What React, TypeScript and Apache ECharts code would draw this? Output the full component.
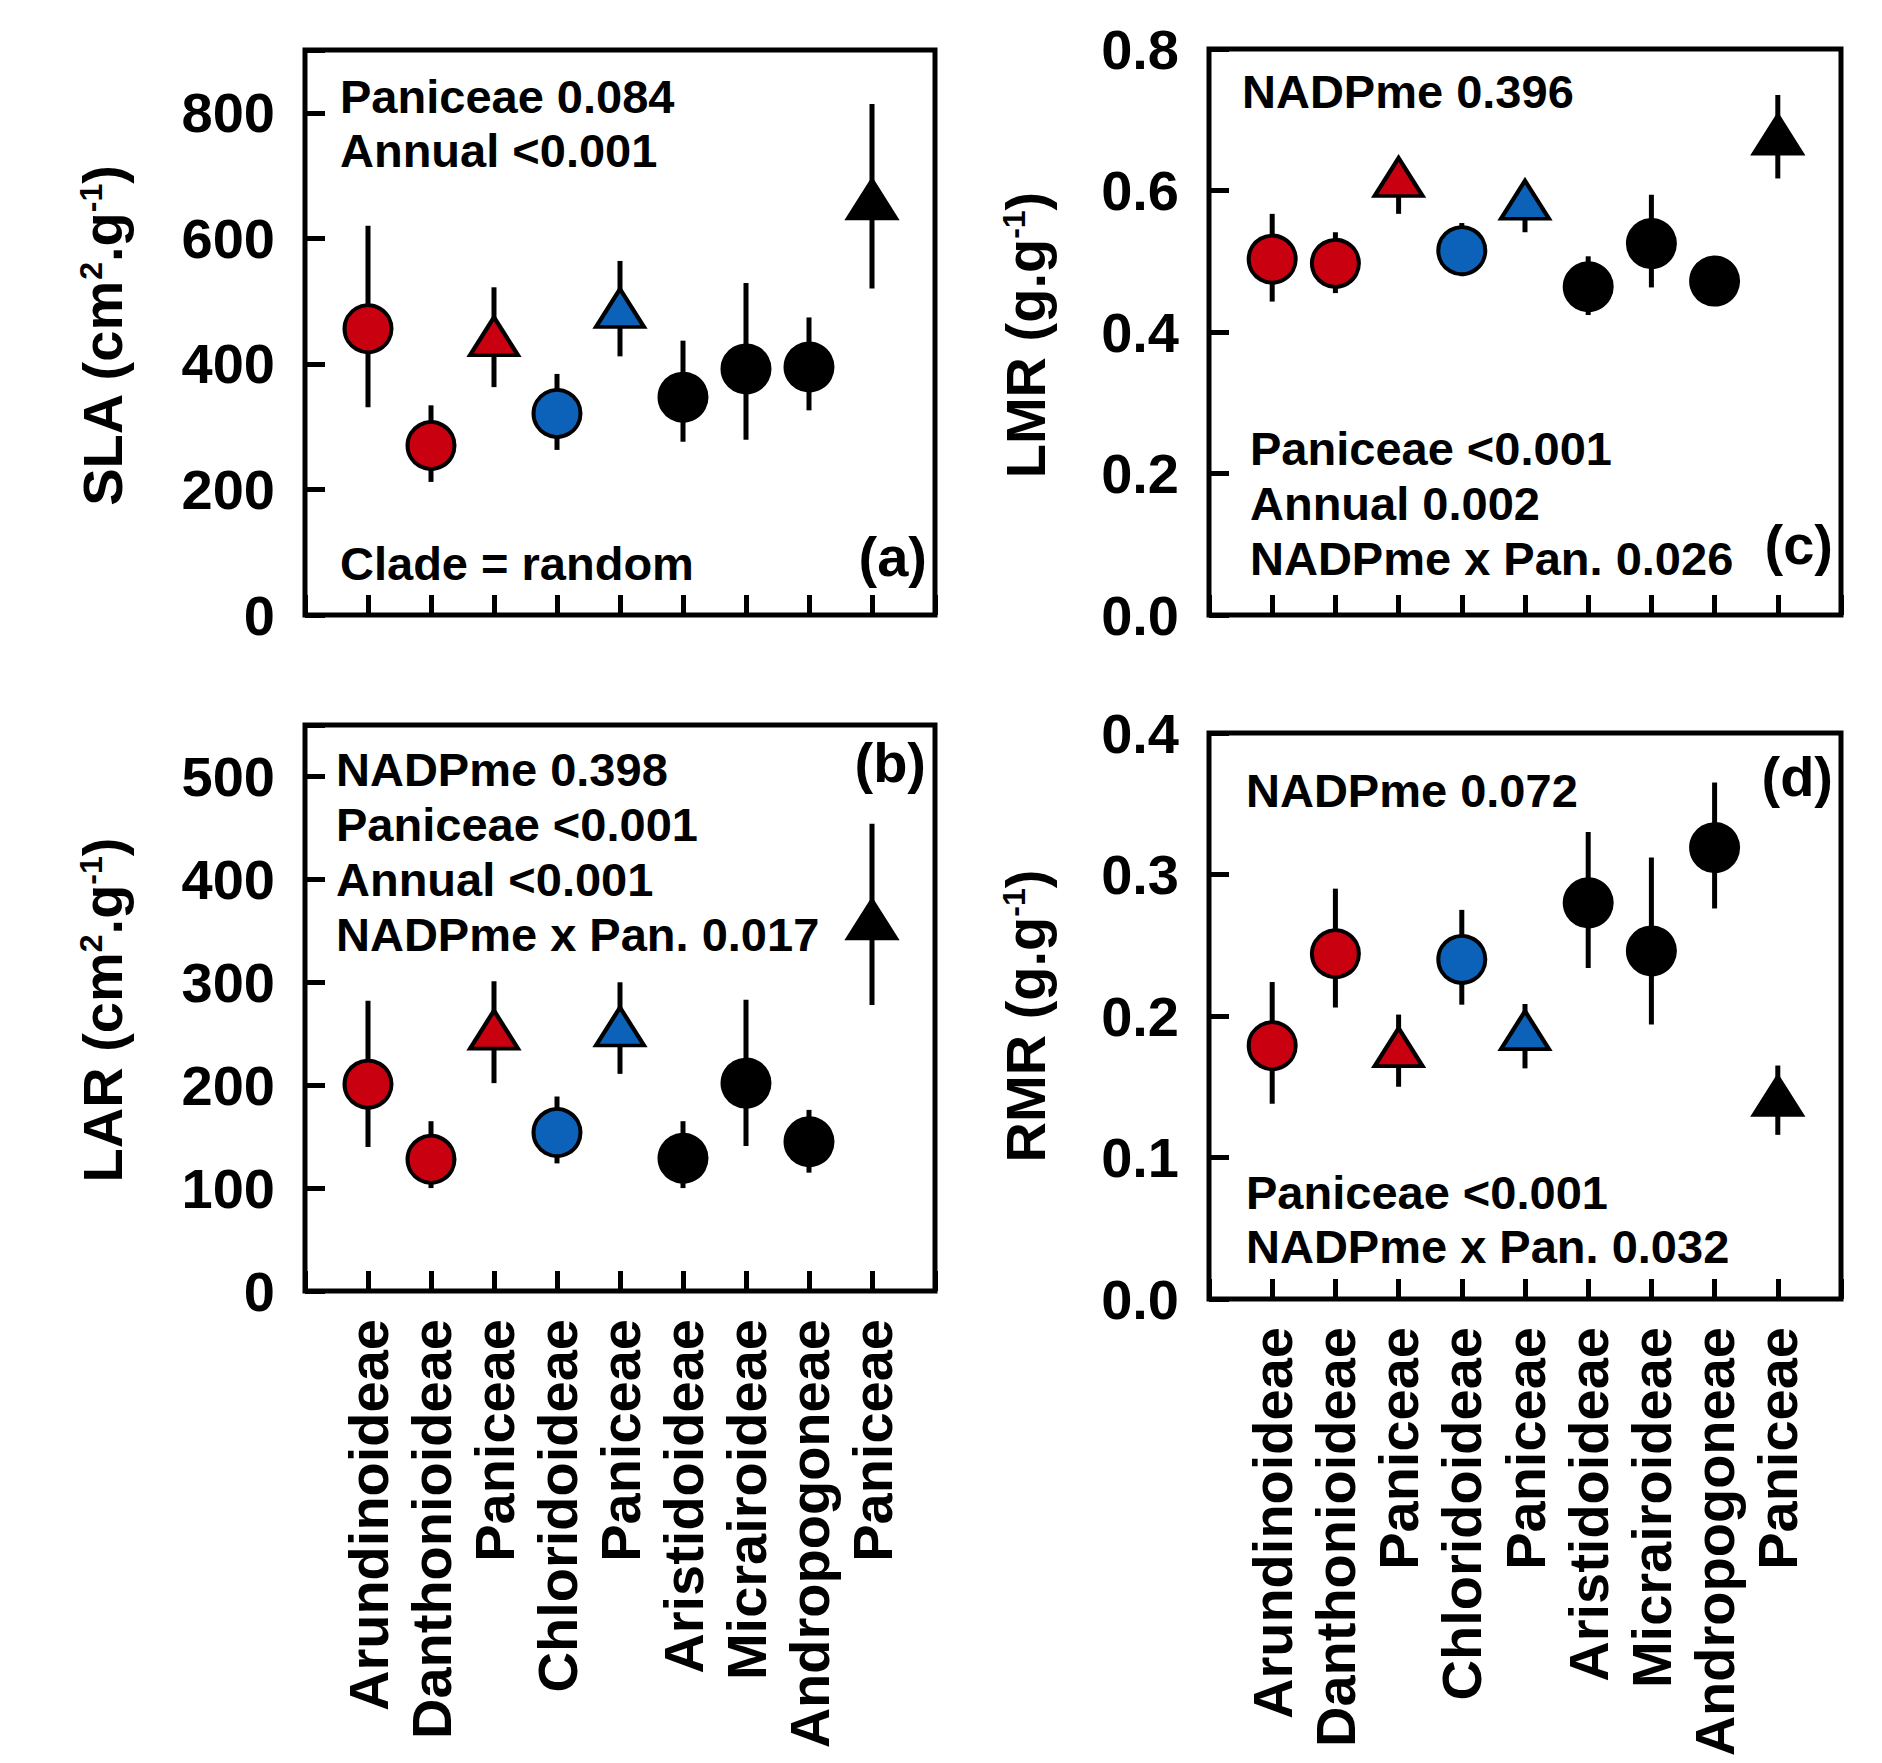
import React, { useEffect, useRef } from 'react';
import * as echarts from 'echarts';

// ---------- data ----------
const categories = ['Arundinoideae', 'Danthonioideae', 'Paniceae', 'Chloridoideae', 'Paniceae', 'Aristidoideae', 'Micrairoideae', 'Andropogoneae', 'Paniceae'];
const groupColors = ['red', 'red', 'red', 'blue', 'blue', 'black', 'black', 'black', 'black'];
const markerShapes = ['circle', 'circle', 'triangle', 'circle', 'triangle', 'circle', 'circle', 'circle', 'triangle'];

// (a) SLA
const slaMean = [456, 270, 444, 321, 489, 347, 392, 395, 662];
const slaLow = [331, 212, 363, 263, 412, 276, 279, 326, 520];
const slaHigh = [620, 334, 522, 384, 564, 437, 529, 474, 814];
const slaTicks = [0, 200, 400, 600, 800];

// (b) LAR
const larMean = [201, 128, 254, 154, 257, 129, 202, 145, 361];
const larLow = [140, 100, 202, 124, 211, 100, 141, 115, 278];
const larHigh = [282, 165, 301, 189, 300, 165, 283, 176, 454];
const larTicks = [0, 100, 200, 300, 400, 500];

// (c) LMR
const lmrMean = [0.503, 0.497, 0.619, 0.515, 0.587, 0.464, 0.525, 0.472, 0.679];
const lmrLow = [0.443, 0.455, 0.567, 0.479, 0.541, 0.424, 0.463, 0.452, 0.617];
const lmrHigh = [0.567, 0.541, 0.645, 0.554, 0.61, 0.507, 0.594, 0.492, 0.735];
const lmrTicks = [0, 0.2, 0.4, 0.6, 0.8];

// (d) RMR
const rmrMean = [0.179, 0.244, 0.178, 0.24, 0.19, 0.28, 0.246, 0.319, 0.1435];
const rmrLow = [0.138, 0.206, 0.15, 0.208, 0.163, 0.234, 0.194, 0.276, 0.116];
const rmrHigh = [0.224, 0.29, 0.201, 0.275, 0.2085, 0.33, 0.312, 0.365, 0.165];
const rmrTicks = [0, 0.1, 0.2, 0.3, 0.4];

// annotation texts
const textsA = ['Paniceae 0.084', 'Annual <0.001', 'Clade = random', '(a)'];
const textsB = ['NADPme 0.398', 'Paniceae <0.001', 'Annual <0.001', 'NADPme x Pan. 0.017', '(b)'];
const textsC = ['NADPme 0.396', 'Paniceae <0.001', 'Annual 0.002', 'NADPme x Pan. 0.026', '(c)'];
const textsD = ['NADPme 0.072', 'Paniceae <0.001', 'NADPme x Pan. 0.032', '(d)'];

// ---------- styling ----------
const FONT = "'Liberation Sans', Arial, Helvetica, sans-serif";
const COLORS: Record<string, string> = { red: '#C9000F', blue: '#0B62B8', black: '#000000' };
const TICK_FS = 56;
const ANN_FS = 47;
const LABEL_FS = 56;

const xCats = ['', ...categories, ''];

type Panel = {
  grid: { left: number; top: number; width: number; height: number };
  max: number; interval: number; ticks: number[]; decimals: number;
  mean: number[]; low: number[]; high: number[];
  showCats: boolean;
};

const panels: Panel[] = [
  { grid: { left: 305, top: 50, width: 630, height: 565 }, max: 900, interval: 200, ticks: slaTicks, decimals: 0, mean: slaMean, low: slaLow, high: slaHigh, showCats: false },
  { grid: { left: 305, top: 725, width: 630, height: 566 }, max: 550, interval: 100, ticks: larTicks, decimals: 0, mean: larMean, low: larLow, high: larHigh, showCats: true },
  { grid: { left: 1209, top: 49, width: 632, height: 566 }, max: 0.8, interval: 0.2, ticks: lmrTicks, decimals: 1, mean: lmrMean, low: lmrLow, high: lmrHigh, showCats: false },
  { grid: { left: 1209, top: 733, width: 632, height: 566 }, max: 0.4, interval: 0.1, ticks: rmrTicks, decimals: 1, mean: rmrMean, low: rmrLow, high: rmrHigh, showCats: true },
];

function annText(text: string, x: number, baseline: number, align: 'left' | 'right', fs: number = ANN_FS) {
  return {
    type: 'text',
    x,
    y: baseline - 0.3465 * fs,
    z: 10,
    style: {
      text,
      fontFamily: FONT,
      fontWeight: 'bold',
      fontSize: fs,
      fill: '#000',
      align,
      verticalAlign: 'middle',
    },
  };
}

const MAIN_FS = 56;
const SUP_FS = 32;
const richTitle = {
  m: { fontFamily: FONT, fontWeight: 'bold', fontSize: MAIN_FS, lineHeight: MAIN_FS, verticalAlign: 'middle', fill: '#000' },
  s: { fontFamily: FONT, fontWeight: 'bold', fontSize: SUP_FS, lineHeight: SUP_FS, verticalAlign: 'top', padding: [0, 0, 41, 0], fill: '#000' },
};

function yTitle(parts: string[], baselineX: number, centerY: number) {
  const text = parts.map((p, i) => (i % 2 === 0 ? `{m|${p}}` : `{s|${p}}`)).join('');
  return {
    type: 'text',
    x: baselineX - 0.3465 * MAIN_FS,
    y: centerY,
    rotation: Math.PI / 2,
    z: 10,
    style: {
      text,
      rich: richTitle,
      align: 'center',
      verticalAlign: 'middle',
    },
  };
}

function buildOption() {
  const grids: any[] = [];
  const xAxes: any[] = [];
  const yAxes: any[] = [];
  const series: any[] = [];

  panels.forEach((p, gi) => {
    grids.push({ ...p.grid, show: true, borderColor: '#000', borderWidth: 5, backgroundColor: 'transparent', containLabel: false });
    xAxes.push({
      type: 'category',
      gridIndex: gi,
      data: xCats,
      boundaryGap: false,
      axisLine: { show: false },
      axisTick: { show: true, inside: true, length: 20, interval: 0, lineStyle: { color: '#000', width: 5 } },
      axisLabel: {
        show: p.showCats,
        interval: 0,
        rotate: 90,
        margin: 28,
        fontFamily: FONT,
        fontWeight: 'bold',
        fontSize: 56,
        color: '#000',
      },
      splitLine: { show: false },
    });
    yAxes.push({
      type: 'value',
      gridIndex: gi,
      min: 0,
      max: p.max,
      interval: p.interval,
      axisLine: { show: false },
      axisTick: { show: true, inside: true, length: 20, lineStyle: { color: '#000', width: 5 } },
      axisLabel: {
        margin: 30,
        fontFamily: FONT,
        fontWeight: 'bold',
        fontSize: TICK_FS,
        color: '#000',
        formatter: (v: number) => {
          const shown = p.ticks.some((t) => Math.abs(t - v) < 1e-9);
          return shown ? v.toFixed(p.decimals) : '';
        },
      },
      splitLine: { show: false },
    });

    series.push({
      type: 'custom',
      xAxisIndex: gi,
      yAxisIndex: gi,
      z: 2,
      clip: false,
      encode: { x: 0, y: [1, 2] },
      data: categories.map((_, i) => [i + 1, p.low[i], p.high[i]]),
      renderItem: (params: any, api: any) => {
        const x = api.value(0);
        const lo = api.coord([x, api.value(1)]);
        const hi = api.coord([x, api.value(2)]);
        return {
          type: 'line',
          shape: { x1: lo[0], y1: lo[1], x2: hi[0], y2: hi[1] },
          style: { stroke: '#000', lineWidth: 5 },
        };
      },
    });

    series.push({
      type: 'scatter',
      xAxisIndex: gi,
      yAxisIndex: gi,
      z: 3,
      data: categories.map((_, i) => ({
        value: [i + 1, p.mean[i]],
        symbol: markerShapes[i],
        symbolSize: markerShapes[i] === 'triangle' ? [48, 38] : 47,
        itemStyle: { color: COLORS[groupColors[i]], borderColor: '#000', borderWidth: 4, opacity: 1 },
      })),
    });
  });

  const graphics: any[] = [
    // panel (a)
    annText(textsA[0], 340, 113, 'left'),
    annText(textsA[1], 340, 167, 'left'),
    annText(textsA[2], 340, 580, 'left'),
    annText(textsA[3], 927, 576, 'right', LABEL_FS),
    // panel (b)
    annText(textsB[0], 336, 786, 'left'),
    annText(textsB[1], 336, 841, 'left'),
    annText(textsB[2], 336, 896, 'left'),
    annText(textsB[3], 336, 951, 'left'),
    annText(textsB[4], 926, 782, 'right', LABEL_FS),
    // panel (c)
    annText(textsC[0], 1242, 108, 'left'),
    annText(textsC[1], 1250, 465, 'left'),
    annText(textsC[2], 1250, 520, 'left'),
    annText(textsC[3], 1250, 575, 'left'),
    annText(textsC[4], 1833, 564, 'right', LABEL_FS),
    // panel (d)
    annText(textsD[0], 1246, 807, 'left'),
    annText(textsD[1], 1246, 1209, 'left'),
    annText(textsD[2], 1246, 1263, 'left'),
    annText(textsD[3], 1833, 796, 'right', LABEL_FS),
    // y titles
    yTitle(['SLA (cm', '2', '.g', '-1', ')'], 122, 336),
    yTitle(['LAR (cm', '2', '.g', '-1', ')'], 122, 1010),
    yTitle(['LMR (g.g', '-1', ')'], 1045, 335),
    yTitle(['RMR (g.g', '-1', ')'], 1045, 1016),
  ];

  return {
    animation: false,
    backgroundColor: '#ffffff',
    grid: grids,
    xAxis: xAxes,
    yAxis: yAxes,
    series,
    graphic: graphics,
  };
}

export default function App() {
  const ref = useRef<HTMLDivElement>(null);
  useEffect(() => {
    if (!ref.current) return;
    const chart = echarts.init(ref.current, undefined, { renderer: 'svg' });
    chart.setOption(buildOption() as any);
    return () => chart.dispose();
  }, []);
  return (
    <div
      ref={ref}
      style={{ position: 'fixed', left: 0, top: 0, width: 1882, height: 1763, background: '#fff' }}
    />
  );
}
